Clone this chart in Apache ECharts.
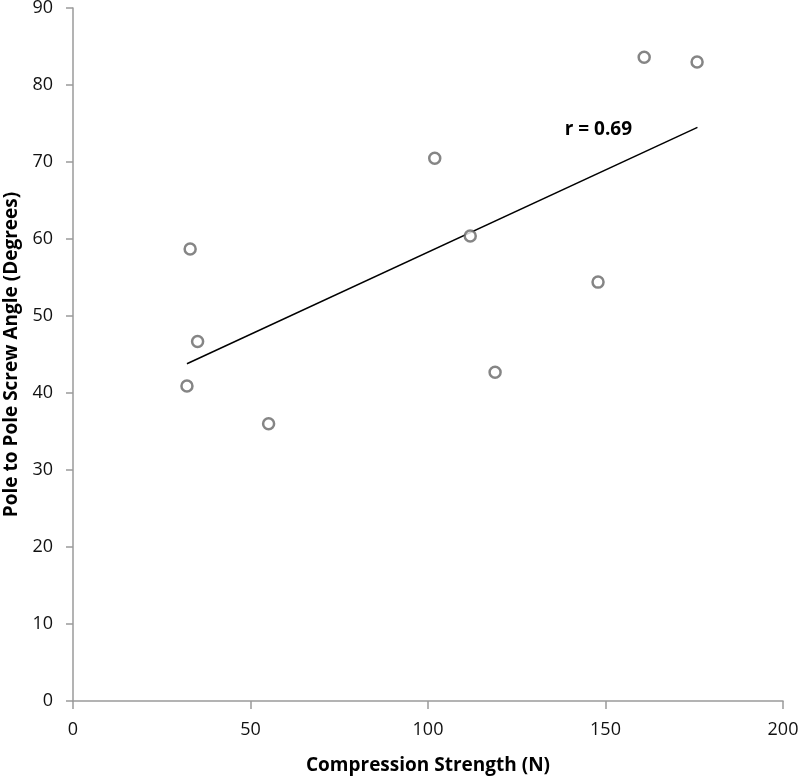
<!DOCTYPE html>
<html>
<head>
<meta charset="utf-8">
<script src="https://cdn.jsdelivr.net/npm/echarts@6/dist/echarts.min.js"></script>
<style>html,body{margin:0;padding:0;background:#fff;}#c{width:800px;height:777px;}</style>
</head>
<body>
<div id="c"></div>
<script>
// Data
var compressionStrength = [33.0, 35.1, 32.1, 55.1, 101.9, 111.9, 147.9, 118.9, 160.9, 175.8];
var screwAngle = [58.7, 46.7, 40.9, 36.0, 70.5, 60.4, 54.4, 42.7, 83.6, 83.0];
var trendX = [32.1, 175.9];
var trendY = [43.8, 74.5];
var rLabel = 'r = 0.69';
var rLabelPos = [148, 74.2];
var xTitle = 'Compression Strength (N)';
var yTitle = 'Pole to Pole Screw Angle (Degrees)';

var points = compressionStrength.map(function (x, i) { return [x, screwAngle[i]]; });
var trend = trendX.map(function (x, i) { return [x, trendY[i]]; });

var font = '"Open Sans", "Liberation Sans", sans-serif';
var axisColor = '#9a9a9a';

var chart = echarts.init(document.getElementById('c'), null, { renderer: 'canvas' });
chart.setOption({
  animation: false,
  backgroundColor: '#ffffff',
  grid: { left: 73, right: 17, top: 8, bottom: 76, containLabel: false, outerBoundsMode: 'none' },
  xAxis: {
    type: 'value', min: 0, max: 200, interval: 50,
    name: xTitle, nameLocation: 'middle', nameGap: 55,
    nameTextStyle: { fontFamily: font, fontWeight: 'bold', fontSize: 19, color: '#000' },
    axisLine: { show: true, onZero: false, lineStyle: { color: axisColor, width: 1.5 } },
    axisTick: { show: true, inside: false, length: 8, lineStyle: { color: axisColor, width: 1.5 } },
    axisLabel: { fontFamily: font, fontSize: 18, color: '#111', margin: 20 },
    splitLine: { show: false }
  },
  yAxis: {
    type: 'value', min: 0, max: 90, interval: 10,
    name: yTitle, nameLocation: 'middle', nameGap: 50, nameRotate: 90,
    nameTextStyle: { fontFamily: font, fontWeight: 'bold', fontSize: 19, color: '#000' },
    axisLine: { show: true, onZero: false, lineStyle: { color: axisColor, width: 1.5 } },
    axisTick: { show: true, inside: false, length: 7, lineStyle: { color: axisColor, width: 1.5 } },
    axisLabel: { fontFamily: font, fontSize: 18, color: '#111', margin: 20 },
    splitLine: { show: false }
  },
  series: [
    {
      type: 'line', data: trend, symbol: 'none', silent: true,
      lineStyle: { color: '#000', width: 1.5 }, z: 2,
      markPoint: {
        symbol: 'rect', symbolSize: 0,
        label: { show: true, formatter: rLabel, fontFamily: font, fontWeight: 'bold', fontSize: 19, color: '#000', position: 'inside' },
        data: [{ coord: rLabelPos, value: rLabel }]
      }
    },
    {
      type: 'scatter', data: points, symbol: 'circle', symbolSize: 11,
      itemStyle: { color: '#fff', borderColor: '#666666', borderWidth: 2.5 }, z: 3
    }
  ]
});
</script>
</body>
</html>
